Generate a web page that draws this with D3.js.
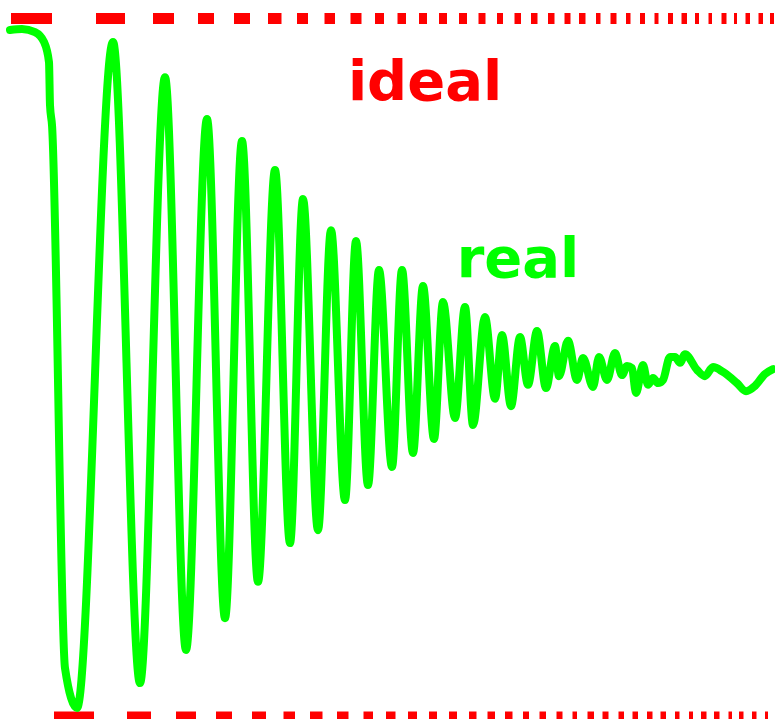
<!DOCTYPE html>
<html>
<head>
<meta charset="utf-8">
<script src="https://cdn.jsdelivr.net/npm/d3@7"></script>
<style>
  html, body { margin: 0; padding: 0; background: #ffffff; }
  svg { display: block; }
</style>
</head>
<body>
<svg id="chart" width="775" height="719"></svg>
<script>
// ---- data ----
// ideal square wave: switching instants (time units); segments alternate high / low
const idealEdges = [0, 43, 85, 116, 142, 165, 187, 205, 223, 241, 257, 272.5, 286, 299, 313.5,
  326, 339.5, 352.5, 364, 375, 386.5, 397, 408, 418, 428, 438, 448, 458, 467.5, 476.5, 486,
  494, 503.5, 512, 520, 528.5, 537, 545.5, 553.5, 561.5, 568, 576.5, 585, 591.5, 599.5,
  607.5, 615, 621.5, 629, 636, 643.5, 649.5, 657, 664, 670.5, 678, 684, 690, 697.5, 703,
  710.5, 717.5, 723, 728, 734.5, 741, 747.5, 754, 759, 765];
const idealLevels = [1, -1];

// real (measured) response
const realTime = [0, 12, 25, 34, 39, 40, 42, 55, 67, 103, 130, 155, 176, 197, 215, 232, 248,
  265, 280, 293, 308, 321, 335, 346, 358, 369, 382, 392, 403, 413, 424, 433, 445, 455, 463,
  475, 485, 492, 501, 510, 518, 527, 536, 545, 549, 558, 567, 573, 583, 589, 597, 605, 612,
  617, 622, 626, 633, 638, 643, 648, 653, 660, 665, 670, 675, 687, 695, 703, 713, 727, 736,
  745, 755, 763];
const realValue = [0.967, 0.970, 0.961, 0.933, 0.875, 0.752, 0.695, -0.860, -0.974, 0.933,
  -0.903, 0.832, -0.808, 0.712, -0.717, 0.649, -0.613, 0.566, -0.502, 0.483, -0.465, 0.394,
  -0.379, 0.363, -0.336, 0.280, -0.284, 0.280, -0.244, 0.234, -0.204, 0.188, -0.144, 0.174,
  -0.164, 0.145, -0.089, 0.094, -0.110, 0.088, -0.049, 0.105, -0.058, 0.062, -0.024, 0.077,
  -0.035, 0.028, -0.055, 0.031, -0.035, 0.042, -0.021, 0.005, -0.001, -0.072, 0.008, -0.049,
  -0.029, -0.044, -0.035, 0.031, 0.031, 0.014, 0.039, -0.006, -0.024, 0.002, -0.012, -0.044,
  -0.067, -0.052, -0.018, -0.004];

const labels = { ideal: "ideal", real: "real" };

// ---- drawing ----
const svg = d3.select("#chart");
const W = 775, H = 719;

const x = d3.scaleLinear().domain([0, 765]).range([10, 775]);
const y = d3.scaleLinear().domain([-1, 1]).range([717, 18.5]);

// ideal: square wave drawn as alternating top / bottom dashes
const idealSegs = d3.range(idealEdges.length - 1).map(i => ({
  t0: idealEdges[i], t1: idealEdges[i + 1], level: idealLevels[i % 2]
}));
svg.append("g")
  .selectAll("line")
  .data(idealSegs)
  .join("line")
  .attr("x1", d => x(d.t0) + 1)
  .attr("x2", d => x(d.t1) - 1)
  .attr("y1", d => y(d.level))
  .attr("y2", d => y(d.level))
  .attr("stroke", "#ff0000")
  .attr("stroke-width", 11)
  .attr("stroke-linecap", "butt");

// real response
const realData = realTime.map((t, i) => ({ t, v: realValue[i] }));
const line = d3.line()
  .x(d => x(d.t))
  .y(d => y(d.v))
  .curve(d3.curveMonotoneX);
svg.append("path")
  .datum(realData)
  .attr("d", line)
  .attr("fill", "none")
  .attr("stroke", "#00ff00")
  .attr("stroke-width", 8)
  .attr("stroke-linejoin", "round")
  .attr("stroke-linecap", "round");

// labels
svg.append("text")
  .attr("x", 425).attr("y", 100)
  .attr("text-anchor", "middle")
  .attr("font-family", "DejaVu Sans")
  .attr("font-weight", "bold")
  .attr("font-size", 56)
  .attr("fill", "#ff0000")
  .text(labels.ideal);

svg.append("text")
  .attr("x", 518).attr("y", 277)
  .attr("text-anchor", "middle")
  .attr("font-family", "DejaVu Sans")
  .attr("font-weight", "bold")
  .attr("font-size", 56)
  .attr("fill", "#00ff00")
  .text(labels.real);
</script>
</body>
</html>
